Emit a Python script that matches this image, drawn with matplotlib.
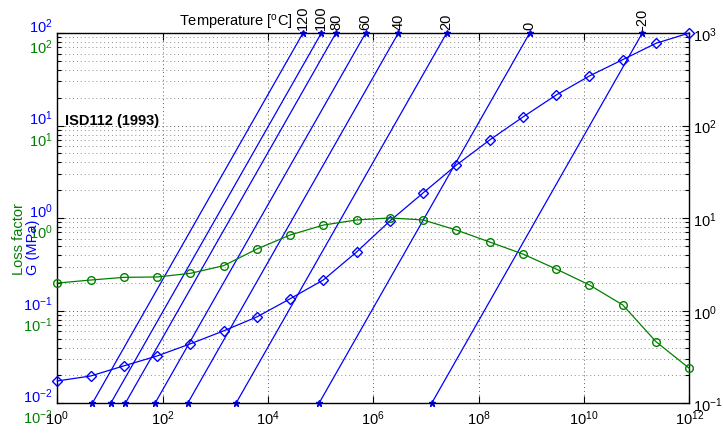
import numpy as np
import matplotlib
matplotlib.use("Agg")
import matplotlib.pyplot as plt
from matplotlib.ticker import LogLocator, NullLocator
from matplotlib.transforms import blended_transform_factory

plt.rcParams['font.family'] = ['Liberation Sans', 'DejaVu Sans']
plt.rcParams['mathtext.fontset'] = 'custom'
plt.rcParams['mathtext.rm'] = 'Liberation Sans'
plt.rcParams['mathtext.it'] = 'Liberation Sans:italic'
plt.rcParams['mathtext.bf'] = 'Liberation Sans:bold'

# reduced frequency sample points (log10 of Hz)
fr_exp = [0.0, 0.632, 1.263, 1.895, 2.526, 3.158, 3.789, 4.421, 5.053, 5.684,
          6.316, 6.947, 7.579, 8.211, 8.842, 9.474, 10.105, 10.737, 11.368, 12.0]

# storage modulus G (MPa) and loss factor
G_mpa = [0.0145, 0.0164, 0.0211, 0.027, 0.0365, 0.0504, 0.0713, 0.112, 0.179, 0.359,
         0.776, 1.56, 3.12, 5.82, 10.3, 17.8, 28.6, 42.9, 64.4, 83.2]
loss_factor = [0.281, 0.303, 0.324, 0.327, 0.358, 0.433, 0.655, 0.929, 1.19, 1.35,
               1.42, 1.35, 1.05, 0.78, 0.578, 0.398, 0.268, 0.163, 0.0654, 0.0337]

# temperature lines: log10 of shift factor aT
temps = [-20, 0, 20, 40, 60, 80, 100, 120]
log_aT = [8.108, 5.969, 4.393, 3.476, 2.855, 2.291, 2.014, 1.665]

# frequency range of the nomogram (Hz)
freq_range = [0.1, 1000]

# label decades for the left-hand scales
decades = [-2, -1, 0, 1, 2]

blue = (0, 0, 1)
green = (0, 0.5, 0)

fig = plt.figure(figsize=(7.23, 4.35), dpi=100)
rect = [57.3 / 723, 1 - 404.3 / 435, 632 / 723, 370.3 / 435]

# main (frequency) axes with the grid
ax = fig.add_axes(rect)
ax.set_xscale('log')
ax.set_yscale('log')
ax.set_xlim(1, 1e12)
ax.set_ylim(freq_range)
ax.set_xticks([10.0 ** k for k in range(0, 13, 2)])
ax.xaxis.set_minor_locator(NullLocator())
ax.yaxis.set_major_locator(LogLocator(base=10))
ax.yaxis.set_minor_locator(LogLocator(base=10, subs=np.arange(2, 10)))
ax.tick_params(axis='both', which='both', direction='in', labelsize=10.5,
               top=True, bottom=True, left=True, right=True,
               labelleft=False, labelright=True, width=0.8)
ax.tick_params(axis='y', which='major', length=5, pad=3)
ax.tick_params(axis='y', which='minor', length=3)
ax.tick_params(axis='x', which='major', length=5, pad=4)
ax.grid(True, which='major', axis='both', linestyle=(0, (1, 3)), color='0.35', lw=0.7)
ax.grid(True, which='minor', axis='y', linestyle=(0, (1, 3)), color='0.55', lw=0.7)
for s in ax.spines.values():
    s.set_linewidth(1.0)

# temperature lines
top_tr = blended_transform_factory(ax.transData, ax.transAxes)
for T, a in zip(temps, log_aT):
    fr = [f * 10 ** a for f in freq_range]
    ax.plot(fr, freq_range, color=blue, lw=0.9, marker='*', markersize=5, clip_on=False)
    ax.text(fr[1], 1.012, str(T), transform=top_tr, rotation=90,
            ha='center', va='bottom', fontsize=10.5)

ax.text(0.373, 1.006, 'Temperature [$^{\\mathrm{o}}$C]', transform=ax.transAxes,
        ha='right', va='bottom', fontsize=10.5)
ax.text(0.012, 0.765, 'ISD112 (1993)', transform=ax.transAxes,
        ha='left', va='center', fontsize=10.5, fontweight='bold')

fr = [10 ** e for e in fr_exp]

# G axis (blue scale, shifted against the grid)
ax_g = fig.add_axes(rect, sharex=ax)
ax_g.set_yscale('log')
ax_g.set_ylim(10 ** -2.08, 10 ** 1.92)
ax_g.set_axis_off()
ax_g.plot(fr, G_mpa, color=blue, lw=0.9, marker='D', markersize=5,
          markerfacecolor='none', markeredgecolor=blue, clip_on=False)

# loss factor axis (green scale)
ax_e = fig.add_axes(rect, sharex=ax)
ax_e.set_yscale('log')
ax_e.set_ylim(10 ** -1.85, 10 ** 2.15)
ax_e.set_axis_off()
ax_e.plot(fr, loss_factor, color=green, lw=0.9, marker='o', markersize=5.5,
          markerfacecolor='none', markeredgecolor=green, clip_on=False)

tr_g = blended_transform_factory(ax.transAxes, ax_g.transData)
tr_e = blended_transform_factory(ax.transAxes, ax_e.transData)
for k in decades:
    ax_g.text(-0.007, 10.0 ** k, '$10^{%d}$' % k, transform=tr_g, color=blue,
              ha='right', va='center', fontsize=10.5, clip_on=False)
    ax_e.text(-0.007, 10.0 ** k, '$10^{%d}$' % k, transform=tr_e, color=green,
              ha='right', va='center', fontsize=10.5, clip_on=False)

fig.text(12 / 723, 1 - 275 / 435, 'Loss factor', color=green, rotation=90,
         ha='left', va='bottom', fontsize=10.5)
fig.text(26 / 723, 1 - 275 / 435, 'G (MPa)', color=blue, rotation=90,
         ha='left', va='bottom', fontsize=10.5)

fig.savefig('out.png', dpi=100)
